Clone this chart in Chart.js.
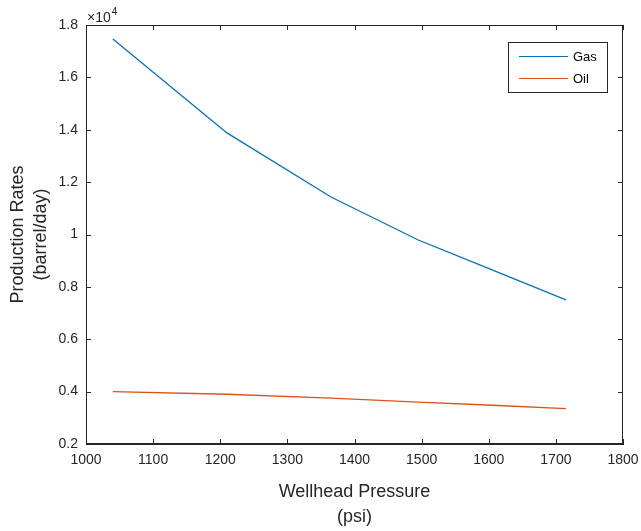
<!DOCTYPE html>
<html lang="en">
<head>
    <meta charset="UTF-8">
    <title>Production Rates</title>
    <script src="https://cdn.jsdelivr.net/npm/chart.js"></script>
    <style>
        body { margin: 0; background: #fff; }
        #wrap { width: 641px; height: 531px; }
    </style>
</head>
<body>
    <div id="wrap"><canvas id="myChart"></canvas></div>
    <script>
        // values
        const pressure = [1040, 1210, 1365, 1495, 1605, 1715];
        const gasRate = [17470, 13880, 11430, 9790, 8650, 7500];
        const oilRate = [4000, 3900, 3750, 3600, 3480, 3350];
        const seriesNames = ['Gas', 'Oil'];
        const seriesColors = ['#0072BD', '#D95319'];
        const xTitle = ['Wellhead Pressure', '(psi)'];
        const yTitle = ['Production Rates', '(barrel/day)'];

        const ink = '#262626';
        const font = 'Liberation Sans, Arial, sans-serif';

        // MATLAB look: closed box, inward ticks, x10^4 label, boxed legend
        const matlabBox = {
            id: 'matlabBox',
            afterDraw(chart) {
                const c = chart.ctx;
                const a = chart.chartArea;
                const xs = chart.scales.x, ys = chart.scales.y;
                c.save();
                c.strokeStyle = ink;
                c.lineWidth = 1;
                c.strokeRect(a.left + 0.5, a.top + 0.5, a.right - a.left - 1, a.bottom - a.top - 1);
                c.beginPath();
                xs.ticks.forEach(t => {
                    const px = Math.round(xs.getPixelForValue(t.value)) + 0.5;
                    c.moveTo(px, a.bottom); c.lineTo(px, a.bottom - 5);
                    c.moveTo(px, a.top); c.lineTo(px, a.top + 5);
                });
                ys.ticks.forEach(t => {
                    const py = Math.round(ys.getPixelForValue(t.value)) + 0.5;
                    c.moveTo(a.left, py); c.lineTo(a.left + 5, py);
                    c.moveTo(a.right, py); c.lineTo(a.right - 5, py);
                });
                c.stroke();

                // exponent label
                c.fillStyle = ink;
                c.textBaseline = 'alphabetic';
                c.font = '14px ' + font;
                c.fillText('\u00d710', a.left + 1, a.top - 3);
                const w = c.measureText('\u00d710').width;
                c.font = '10px ' + font;
                c.fillText('4', a.left + 2 + w, a.top - 10);

                // legend
                const lx = a.right - 115, ly = a.top + 17;
                c.fillStyle = '#fff';
                c.fillRect(lx, ly, 99, 50);
                c.strokeStyle = ink;
                c.strokeRect(lx + 0.5, ly + 0.5, 99, 50);
                chart.data.datasets.forEach((ds, i) => {
                    const yy = ly + 14 + i * 22;
                    c.strokeStyle = ds.borderColor;
                    c.beginPath();
                    c.moveTo(lx + 11, yy + 0.5); c.lineTo(lx + 60, yy + 0.5);
                    c.stroke();
                    c.fillStyle = '#000';
                    c.font = '13px ' + font;
                    c.textBaseline = 'middle';
                    c.fillText(ds.label, lx + 65, yy + 1);
                });
                c.restore();
            }
        };

        const ctx = document.getElementById('myChart');
        new Chart(ctx, {
            type: 'line',
            data: {
                datasets: [
                    { label: seriesNames[0], data: pressure.map((p, i) => ({ x: p, y: gasRate[i] })),
                      borderColor: seriesColors[0], borderWidth: 1.3, pointRadius: 0, tension: 0 },
                    { label: seriesNames[1], data: pressure.map((p, i) => ({ x: p, y: oilRate[i] })),
                      borderColor: seriesColors[1], borderWidth: 1.3, pointRadius: 0, tension: 0 }
                ]
            },
            options: {
                responsive: true,
                maintainAspectRatio: false,
                animation: false,
                layout: { padding: { left: 0, top: 25, right: 18, bottom: 0 } },
                plugins: { legend: { display: false }, tooltip: { enabled: false } },
                scales: {
                    x: {
                        type: 'linear', min: 1000, max: 1800,
                        ticks: { stepSize: 100, color: ink, font: { family: font, size: 14 }, padding: 8, maxRotation: 0,
                                 callback: v => String(v) },
                        grid: { display: false, drawTicks: false },
                        border: { display: true, color: ink },
                        title: { display: true, text: xTitle, color: ink, font: { family: font, size: 18, lineHeight: 1.39 },
                                 padding: { top: 8, bottom: 1.5 } },
                        afterFit(scale) {
                            scale.height = 87;
                            scale.paddingLeft = 0;
                            scale.paddingRight = 0;
                        }
                    },
                    y: {
                        min: 2000, max: 18000,
                        ticks: { stepSize: 2000, color: ink, font: { family: font, size: 14 }, padding: 8,
                                 callback: v => String(+(v / 10000).toFixed(1)) },
                        grid: { display: false, drawTicks: false },
                        border: { display: true, color: ink },
                        title: { display: true, text: yTitle, color: ink, font: { family: font, size: 18, lineHeight: 1.3 },
                                 padding: { top: 6, bottom: 4 } },
                        afterFit(scale) {
                            scale.width = 86;
                            scale.paddingTop = 0;
                            scale.paddingBottom = 0;
                        }
                    }
                }
            },
            plugins: [matlabBox]
        });
    </script>
</body>
</html>
